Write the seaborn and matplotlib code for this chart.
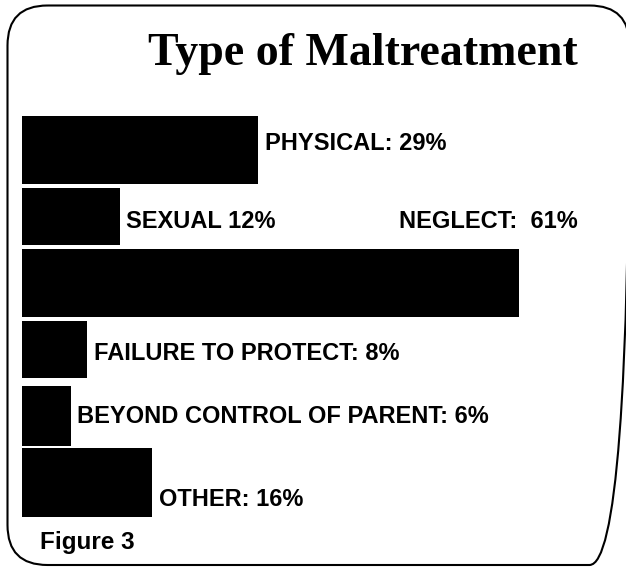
import matplotlib
matplotlib.use("Agg")
import matplotlib.pyplot as plt
from matplotlib.patches import FancyBboxPatch
import pandas as pd
import seaborn as sns

# Maltreatment categories and their share of cases (percent)
categories = ["PHYSICAL", "SEXUAL", "NEGLECT", "FAILURE TO PROTECT",
              "BEYOND CONTROL OF PARENT", "OTHER"]
percent = [29, 12, 61, 8, 6, 16]
separators = [": ", " ", ":  ", ": ", ": ", ": "]

sns.set_style("white")
plt.rcParams["font.family"] = ["Liberation Sans", "DejaVu Sans"]
plt.rcParams["text.color"] = "black"

df = pd.DataFrame({"type": categories, "pct": percent})

fig = plt.figure(figsize=(6.26, 5.67), dpi=100)

# rounded frame around the whole figure, drawn in pixel units
frame = fig.add_axes([0, 0, 1, 1])
frame.set_xlim(0, 626)
frame.set_ylim(567, 0)
frame.axis("off")
frame.add_patch(FancyBboxPatch((7.5, 5.5), 622, 559.5,
                               boxstyle="round,pad=0,rounding_size=40",
                               fill=False, lw=1.5, ec="black"))

ax = fig.add_axes([22 / 626, 27 / 567, 603 / 626, 440 / 567])
sns.barplot(data=df, y="type", x="pct", order=categories, orient="h",
            color="black", saturation=1, linewidth=0, width=0.95, ax=ax)

# alternate thick / thin bars
thickness = [1.02, 0.86, 1.02, 0.87, 0.89, 1.04]
for patch, t in zip(ax.patches, thickness):
    c = patch.get_y() + patch.get_height() / 2
    patch.set_height(t)
    patch.set_y(c - t / 2)

ax.set_xlim(0, 74)
ax.set_ylim(5.865, -0.752)
ax.axis("off")

# value labels next to each bar
label_dy = [-0.093, 0.068, -0.93, 0.063, 0.01, 0.25]
for i, (name, sep, val, dy) in enumerate(zip(categories, separators, percent, label_dy)):
    text = f"{name}{sep}{val}%"
    if name == "NEGLECT":
        ax.text(val + 7.2, i + dy, text, ha="right", va="center",
                fontsize=17, fontweight="bold", color="black")
    else:
        ax.text(val + 0.8, i + dy, text, ha="left", va="center",
                fontsize=17, fontweight="bold", color="black")

fig.text(363 / 626, 1 - 65 / 567, "Type of Maltreatment",
         family=["Liberation Serif", "DejaVu Serif"], fontweight="bold",
         fontsize=33, ha="center", va="baseline", color="black")
fig.text(40 / 626, 1 - 542 / 567, "Figure 3", fontsize=17.5,
         fontweight="bold", ha="left", va="center", color="black")

fig.savefig("out.png", dpi=100)
